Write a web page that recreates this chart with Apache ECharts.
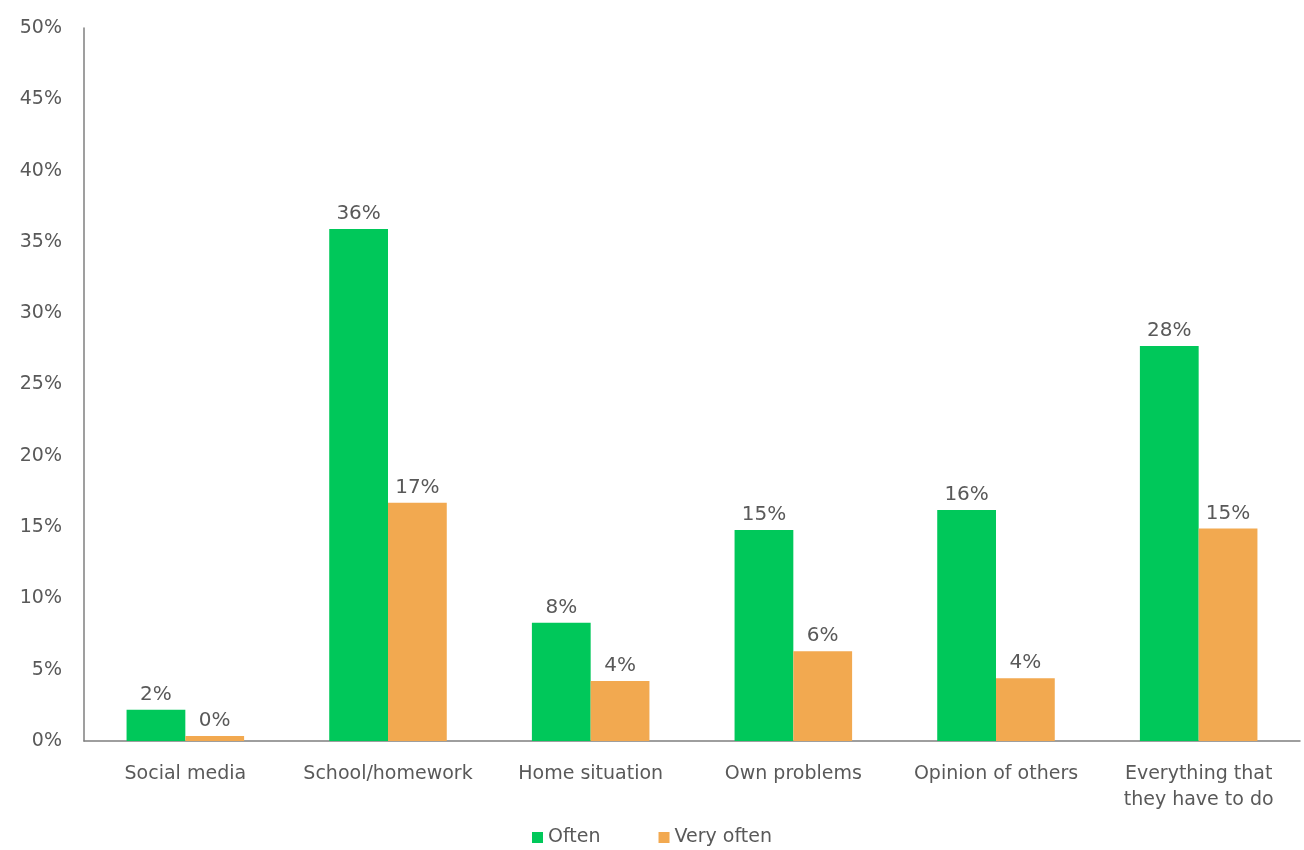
<!DOCTYPE html>
<html>
<head>
<meta charset="utf-8">
<script src="https://cdn.jsdelivr.net/npm/echarts@6/dist/echarts.min.js"></script>
<style>html,body{margin:0;padding:0;background:#fff}#c{width:1304px;height:850px}</style>
</head>
<body>
<div id="c"></div>
<script>
const categories = ['Social media', 'School/homework', 'Home situation', 'Own problems', 'Opinion of others', 'Everything that\nthey have to do'];
const often = [2.2, 35.9, 8.3, 14.8, 16.2, 27.7];
const veryOften = [0.35, 16.7, 4.2, 6.3, 4.4, 14.9];
const yTicks = [0, 5, 10, 15, 20, 25, 30, 35, 40, 45, 50];

const FONT = 'DejaVu Sans';
const TXT = '#595959';
const chart = echarts.init(document.getElementById('c'));
chart.setOption({
  animation: false,
  textStyle: { fontFamily: FONT },
  grid: { left: 84, right: 4, top: 28, bottom: 109, containLabel: false },
  legend: {
    bottom: -2, left: 'center', itemWidth: 11, itemHeight: 11, itemGap: 58,
    icon: 'rect',
    textStyle: { color: TXT, fontSize: 19, fontFamily: FONT },
    data: ['Often', 'Very often']
  },
  xAxis: {
    type: 'category', data: categories,
    axisLine: { lineStyle: { color: '#7f7f7f', width: 1.5 } },
    axisTick: { show: false },
    axisLabel: { color: TXT, fontSize: 19, margin: 20, lineHeight: 26, interval: 0 }
  },
  yAxis: {
    type: 'value', min: 0, max: 50, interval: 5,
    axisLine: { show: true, lineStyle: { color: '#7f7f7f', width: 1.5 } },
    axisTick: { show: false },
    splitLine: { show: false },
    axisLabel: { color: TXT, fontSize: 19, margin: 22, formatter: v => yTicks.includes(v) ? v + '%' : '' }
  },
  series: [
    {
      name: 'Often', type: 'bar', data: often, barGap: '0%', barCategoryGap: '42%',
      itemStyle: { color: '#00C85A' },
      label: { show: true, position: 'top', distance: 5, color: TXT, fontSize: 20, formatter: p => Math.round(p.value) + '%' }
    },
    {
      name: 'Very often', type: 'bar', data: veryOften, barGap: '0%', barCategoryGap: '42%',
      itemStyle: { color: '#F2A950' },
      label: { show: true, position: 'top', distance: 5, color: TXT, fontSize: 20, formatter: p => Math.round(p.value) + '%' }
    }
  ]
});
</script>
</body>
</html>
